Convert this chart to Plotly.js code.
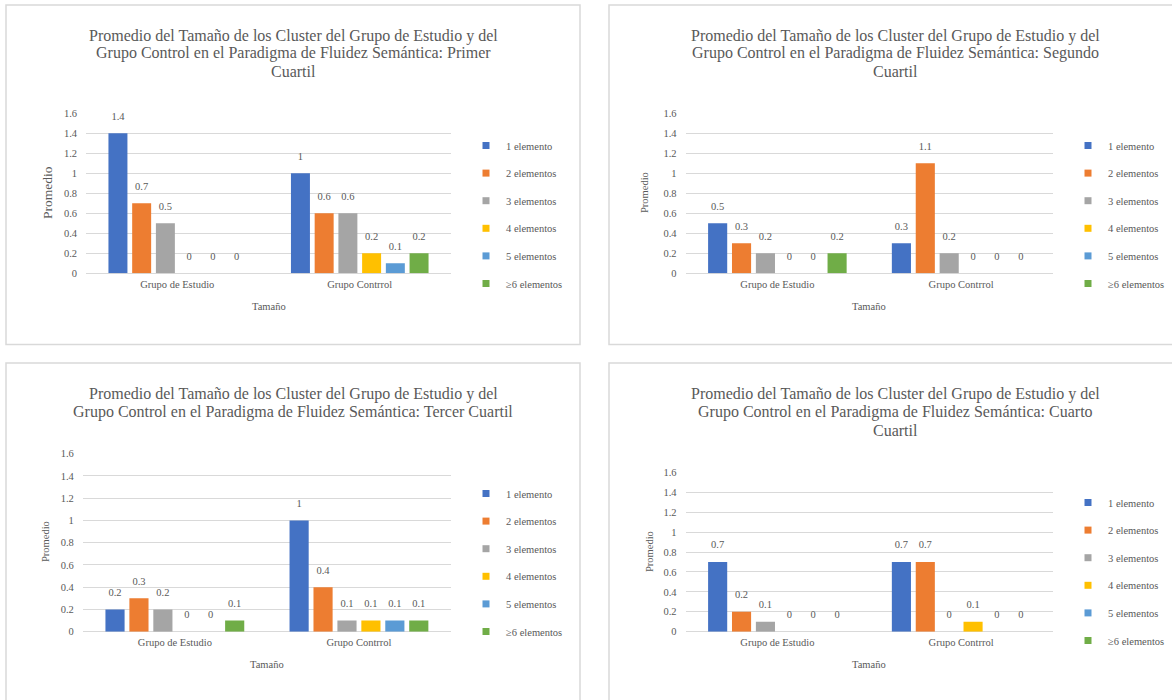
<!DOCTYPE html>
<html>
<head>
<meta charset="utf-8">
<script src="https://cdn.plot.ly/plotly-3.0.1.min.js"></script>
<style>html,body{margin:0;padding:0;background:#fff;}#chart{width:1172px;height:700px;}</style>
</head>
<body>
<div id="chart"></div>
<script>
// ---- data ----
const series = ['1 elemento', '2 elementos', '3 elementos', '4 elementos', '5 elementos', '≥6 elementos'];
const categories = ['Grupo de Estudio', 'Grupo Contrrol'];
const yTickVals = [0, 0.2, 0.4, 0.6, 0.8, 1, 1.2, 1.4, 1.6];
const yTickText = ['0', '0.2', '0.4', '0.6', '0.8', '1', '1.2', '1.4', '1.6'];

const primerEstudio = [1.4, 0.7, 0.5, 0, 0, 0];
const primerControl = [1, 0.6, 0.6, 0.2, 0.1, 0.2];
const segundoEstudio = [0.5, 0.3, 0.2, 0, 0, 0.2];
const segundoControl = [0.3, 1.1, 0.2, 0, 0, 0];
const tercerEstudio = [0.2, 0.3, 0.2, 0, 0, 0.1];
const tercerControl = [1, 0.4, 0.1, 0.1, 0.1, 0.1];
const cuartoEstudio = [0.7, 0.2, 0.1, 0, 0, 0];
const cuartoControl = [0.7, 0.7, 0, 0.1, 0, 0];

const titlePrimer = ['Promedio del Tamaño de los Cluster del Grupo de Estudio y del',
  'Grupo Control en el Paradigma de Fluidez Semántica: Primer', 'Cuartil'];
const titleSegundo = ['Promedio del Tamaño de los Cluster del Grupo de Estudio y del',
  'Grupo Control en el Paradigma de Fluidez Semántica: Segundo', 'Cuartil'];
const titleTercer = ['Promedio del Tamaño de los Cluster del Grupo de Estudio y del',
  'Grupo Control en el Paradigma de Fluidez Semántica: Tercer Cuartil'];
const titleCuarto = ['Promedio del Tamaño de los Cluster del Grupo de Estudio y del',
  'Grupo Control en el Paradigma de Fluidez Semántica: Cuarto', 'Cuartil'];
const xTitle = 'Tamaño';
const yTitle = 'Promedio';

// ---- styling / layout ----
const colors = ['#4472C4', '#ED7D31', '#A5A5A5', '#FFC000', '#5B9BD5', '#70AD47'];
const FONT = 'Liberation Serif, Times New Roman, serif';
const TXT = '#595959';
const W = 1172, H = 700;
const px = v => v / W;
const py = v => 1 - v / H;
const TITLE_LINE = 18;

const panels = [
  {est: primerEstudio, ctl: primerControl, title: titlePrimer, x0: 86, x1: 451, yTop: 113.3, yBot: 273.3,
   titleX: 293.5, titleY: 35.5, legX: 466, legY: 131, promX: 48, promY: 193, promSize: 13.5, tamY: 306},
  {est: segundoEstudio, ctl: segundoControl, title: titleSegundo, x0: 685.5, x1: 1053, yTop: 113.3, yBot: 273.3,
   titleX: 895.5, titleY: 35.5, legX: 1068, legY: 131, promX: 645, promY: 193, promSize: 10.5, tamY: 306},
  {est: tercerEstudio, ctl: tercerControl, title: titleTercer, x0: 82.8, x1: 451, yTop: 453.7, yBot: 631.7,
   titleX: 293, titleY: 394.3, legX: 466, legY: 479, promX: 45, promY: 542, promSize: 10.5, tamY: 664},
  {est: cuartoEstudio, ctl: cuartoControl, title: titleCuarto, x0: 685.5, x1: 1053, yTop: 472.3, yBot: 631.7,
   titleX: 895.5, titleY: 394.3, legX: 1068, legY: 488, promX: 649, promY: 552, promSize: 10.5, tamY: 664}
];

const traces = [];
const layout = {
  width: W, height: H,
  margin: {l: 0, r: 0, t: 0, b: 0},
  paper_bgcolor: '#ffffff', plot_bgcolor: '#ffffff',
  barmode: 'group', bargap: 0.22, bargroupgap: 0.2,
  scattermode: 'group', scattergap: 0.22,
  showlegend: true,
  font: {family: FONT, color: TXT, size: 10.5},
  annotations: [], shapes: []
};

// panel borders
const borders = [[6, 5, 580, 344.5], [609, 5, 1190, 344.5], [6, 363, 580, 720], [609, 363, 1190, 720]];
borders.forEach(b => layout.shapes.push({type: 'rect', xref: 'paper', yref: 'paper',
  x0: px(b[0]), x1: px(b[2]), y0: py(b[3]), y1: py(b[1]), line: {color: '#D9D9D9', width: 1.5}, fillcolor: 'rgba(0,0,0,0)', layer: 'below'}));

panels.forEach((p, k) => {
  const n = k + 1;
  const xa = 'x' + (n === 1 ? '' : n), ya = 'y' + (n === 1 ? '' : n);
  const legName = 'legend' + (n === 1 ? '' : n);
  series.forEach((s, i) => {
    const vals = [p.est[i], p.ctl[i]];
    traces.push({type: 'bar', x: categories, y: vals, xaxis: xa, yaxis: ya, offsetgroup: String(i),
      marker: {color: colors[i], line: {width: 0}}, showlegend: false, hoverinfo: 'skip', name: s});
    traces.push({type: 'scatter', mode: 'markers+text', x: categories, y: vals, xaxis: xa, yaxis: ya,
      offsetgroup: String(i), text: vals.map(v => String(v)), textposition: 'top center',
      textfont: {family: FONT, size: 10.5, color: TXT}, marker: {size: 16, color: 'rgba(0,0,0,0)'},
      cliponaxis: false, showlegend: false, hoverinfo: 'skip', name: s});
    traces.push({type: 'scatter', mode: 'markers', x: [null], y: [null], xaxis: xa, yaxis: ya,
      offsetgroup: String(i), name: s, legend: legName, legendgroup: 'p' + n + 's' + i,
      marker: {symbol: 'square', size: 7, color: colors[i]}, hoverinfo: 'skip'});
  });
  layout['xaxis' + (n === 1 ? '' : n)] = {
    domain: [px(p.x0), px(p.x1)], anchor: ya, type: 'category', showgrid: false, zeroline: false,
    showline: false, ticks: '', tickfont: {family: FONT, size: 10.5, color: TXT}, ticklabelstandoff: 3,
    fixedrange: true
  };
  layout['yaxis' + (n === 1 ? '' : n)] = {
    domain: [py(p.yBot), py(p.yTop)], anchor: xa, range: [0, 1.6], tickvals: yTickVals, ticktext: yTickText,
    showgrid: true, gridcolor: '#D9D9D9', gridwidth: 1, zeroline: true, zerolinecolor: '#D9D9D9', zerolinewidth: 1,
    showline: false, ticks: '', tickfont: {family: FONT, size: 10.5, color: TXT}, ticklabelstandoff: 8,
    fixedrange: true
  };
  layout[legName] = {x: px(p.legX), y: py(p.legY), xanchor: 'left', yanchor: 'top',
    bgcolor: 'rgba(0,0,0,0)', borderwidth: 0, tracegroupgap: 8.6,
    font: {family: FONT, size: 10.5, color: TXT}, itemclick: false, itemdoubleclick: false};
  p.title.forEach((line, j) => {
    layout.annotations.push({text: line, xref: 'paper', yref: 'paper', x: px(p.titleX), y: py(p.titleY + j * TITLE_LINE),
      xanchor: 'center', yanchor: 'middle', showarrow: false, font: {family: FONT, size: 16, color: TXT}});
  });
  layout.annotations.push({text: xTitle, xref: 'paper', yref: 'paper', x: px((p.x0 + p.x1) / 2), y: py(p.tamY),
    xanchor: 'center', yanchor: 'middle', showarrow: false, font: {family: FONT, size: 10.5, color: TXT}});
  layout.annotations.push({text: yTitle, xref: 'paper', yref: 'paper', x: px(p.promX), y: py(p.promY),
    xanchor: 'center', yanchor: 'middle', textangle: -90, showarrow: false, font: {family: FONT, size: p.promSize, color: TXT}});
});

Plotly.newPlot('chart', traces, layout, {displayModeBar: false, staticPlot: true});
</script>
</body>
</html>
